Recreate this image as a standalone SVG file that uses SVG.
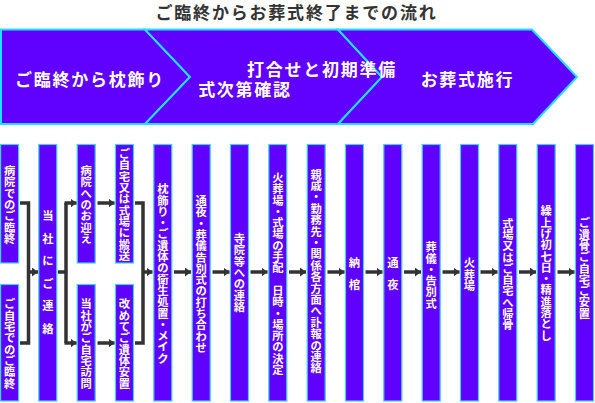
<svg xmlns="http://www.w3.org/2000/svg" width="595" height="403" viewBox="0 0 595 403">
<style>
.bar{fill:#6000ff;stroke:#3cd4ff;stroke-width:1.2}
.chev{fill:#6000ff;stroke:#22e0ff;stroke-width:2}
.vt{font-family:"Noto Sans CJK JP","Noto Sans",sans-serif;font-weight:bold;font-size:11.3px;fill:#ffffff;text-anchor:middle;dominant-baseline:central}
.bt{font-family:"Noto Sans CJK JP","Noto Sans",sans-serif;font-weight:bold;font-size:17px;letter-spacing:1.75px;fill:#ffffff;text-anchor:middle}
.title{font-family:"Noto Sans CJK JP","Noto Sans",sans-serif;font-weight:bold;font-size:17px;letter-spacing:1.8px;fill:#333333;text-anchor:middle}
.ln{fill:none;stroke:#333333;stroke-width:3.5}
</style>
<defs>
<marker id="ah" markerUnits="userSpaceOnUse" markerWidth="7" markerHeight="10" refX="6" refY="4.5" orient="auto">
<path d="M0,0 L6,4.5 L0,9 z" fill="#333333"/>
</marker>
</defs>
<rect width="595" height="403" fill="#ffffff"/>
<text class="title" x="296.5" y="18.5">ご臨終からお葬式終了までの流れ</text>
<g id="stage1">
<polygon class="chev" points="1,29.5 145,29.5 190,77 145,124 1,124"/>
</g>
<g id="stage2">
<polygon class="chev" points="145,29.5 338,29.5 382,77 338,124 145,124 190,77"/>
</g>
<g id="stage3">
<polygon class="chev" points="338,29.5 532,29.5 577,77 533,124 338,124 382,77"/>
</g>
<g id="stage-labels">
<text class="bt" x="90" y="86">ご臨終から枕飾り</text>
<text class="bt" x="322" y="75.5">打合せと初期準備</text>
<text class="bt" x="245" y="95.5">式次第確認</text>
<text class="bt" x="467.5" y="86">お葬式施行</text>
</g>
<g id="n1"><rect class="bar" x="0.6" y="144.5" width="18" height="118.5"/><text class="vt" x="9.6 9.6 9.6 9.6 9.6 9.6 9.6" y="170.1 181.4 192.7 204 215.3 226.6 237.9">病院でのご臨終</text></g>
<g id="n2"><rect class="bar" x="0.6" y="284.5" width="18" height="116.5"/><text class="vt" x="9.6 9.6 9.6 9.6 9.6 9.6 9.6 9.6" y="303.45 314.75 326.05 337.35 348.65 359.95 371.25 382.55">ご自宅でのご臨終</text></g>
<g id="n3"><rect class="bar" x="38.8" y="144.5" width="18" height="256.5"/><text class="vt" x="47.8 47.8 47.8 47.8 47.8 47.8 47.8 47.8 47.8 47.8 47.8" y="215 226.3 237.6 248.9 260.2 271.5 282.8 294.1 305.4 316.7 328">当　社　に　ご　連　絡</text></g>
<g id="n4"><rect class="bar" x="77.2" y="144.5" width="18" height="118.5"/><text class="vt" x="86.2 86.2 86.2 86.2 86.2 86.2 86.2" y="170.1 181.4 192.7 204 215.3 226.6 237.9">病院へのお迎え</text></g>
<g id="n5"><rect class="bar" x="77.2" y="284.5" width="18" height="116.5"/><text class="vt" x="86.2 86.2 86.2 86.2 86.2 86.2 86.2 86.2" y="303.45 314.75 326.05 337.35 348.65 359.95 371.25 382.55">当社がご自宅訪問</text></g>
<g id="n6"><rect class="bar" x="115.5" y="144.5" width="18" height="118.5"/><text class="vt" x="124.5 124.5 124.5 124.5 124.5 124.5 124.5 124.5 124.5 124.5" y="153.15 164.45 175.75 187.05 198.35 209.65 220.95 232.25 243.55 254.85">ご自宅又は式場に搬送</text></g>
<g id="n7"><rect class="bar" x="115.5" y="284.5" width="18" height="116.5"/><text class="vt" x="124.5 124.5 124.5 124.5 124.5 124.5 124.5 124.5" y="303.45 314.75 326.05 337.35 348.65 359.95 371.25 382.55">改めてご遺体安置</text></g>
<g id="n8"><rect class="bar" x="153.8" y="144.5" width="18" height="256.5"/><text class="vt" x="162.8 162.8 162.8 162.8 162.8 162.8 162.8 162.8 162.8 162.8 162.8 162.8 162.8 162.8 162.8 162.8" y="188.25 199.55 210.85 222.15 233.45 244.75 256.05 267.35 278.65 289.95 301.25 312.55 323.85 335.15 346.45 357.75">枕飾り・ご遺体の衛生処置・メイク</text></g>
<g id="n9"><rect class="bar" x="192.2" y="144.5" width="18" height="256.5"/><text class="vt" x="201.2 201.2 201.2 201.2 201.2 201.2 201.2 201.2 201.2 201.2 201.2 201.2 201.2 201.2" y="200.05 211.35 222.65 233.95 245.25 256.55 267.85 279.15 290.45 301.75 313.05 324.35 335.65 346.95">通夜・葬儀告別式の打ち合わせ</text></g>
<g id="n10"><rect class="bar" x="230.5" y="144.5" width="18" height="256.5"/><text class="vt" x="239.5 239.5 239.5 239.5 239.5 239.5 239.5" y="238.1 249.4 260.7 272 283.3 294.6 305.9">寺院等への連絡</text></g>
<g id="n11"><rect class="bar" x="268.8" y="144.5" width="18" height="256.5"/><text class="vt" x="277.8 277.8 277.8 277.8 277.8 277.8 277.8 277.8 277.8 277.8 277.8 277.8 277.8 277.8 277.8 277.8 277.8 277.8" y="176.95 188.25 199.55 210.85 222.15 233.45 244.75 256.05 267.35 278.65 289.95 301.25 312.55 323.85 335.15 346.45 357.75 369.05">火葬場・式場の手配　日時・場所の決定</text></g>
<g id="n12"><rect class="bar" x="307.2" y="144.5" width="18" height="256.5"/><text class="vt" x="316.2 316.2 316.2 316.2 316.2 316.2 316.2 316.2 316.2 316.2 316.2 316.2 316.2 316.2 316.2 316.2 316.2 316.2" y="173.5 184.9 196.3 207.7 219.1 230.5 241.9 253.3 264.7 276.1 287.5 298.9 310.3 321.7 333.1 344.5 355.9 367.3">親戚・勤務先・関係各方面へ訃報の連絡</text></g>
<g id="n13"><rect class="bar" x="345.5" y="144.5" width="18" height="256.5"/><text class="vt" x="354.5 354.5 354.5" y="261.7 273 284.3">納　棺</text></g>
<g id="n14"><rect class="bar" x="383.8" y="144.5" width="18" height="256.5"/><text class="vt" x="392.8 392.8 392.8" y="261.7 273 284.3">通　夜</text></g>
<g id="n15"><rect class="bar" x="422.2" y="144.5" width="18" height="256.5"/><text class="vt" x="431.2 431.2 431.2 431.2 431.2 431.2" y="246.25 257.55 268.85 280.15 291.45 302.75">葬儀・告別式</text></g>
<g id="n16"><rect class="bar" x="460.5" y="144.5" width="18" height="256.5"/><text class="vt" x="469.5 469.5 469.5" y="262.2 273.5 284.8">火葬場</text></g>
<g id="n17"><rect class="bar" x="498.8" y="144.5" width="18" height="256.5"/><text class="vt" x="507.8 507.8 507.8 507.8 507.8 507.8 507.8 507.8 507.8 507.8" y="222.65 233.95 245.25 256.55 267.85 279.15 290.45 301.75 313.05 324.35">式場又はご自宅へ帰骨</text></g>
<g id="n18"><rect class="bar" x="537.2" y="144.5" width="18" height="256.5"/><text class="vt" x="546.2 546.2 546.2 546.2 546.2 546.2 546.2 546.2 546.2 546.2 546.2 546.2" y="210.35 221.65 232.95 244.25 255.55 266.85 278.15 289.45 300.75 312.05 323.35 334.65">繰上げ初七日・精進落とし</text></g>
<g id="n19"><rect class="bar" x="575.5" y="144.5" width="18" height="256.5"/><text class="vt" x="584.5 584.5 584.5 584.5 584.5 584.5 584.5 584.5 584.5" y="222.3 233.6 244.9 256.2 267.5 278.8 290.1 301.4 312.7">ご遺骨ご自宅ご安置</text></g>
<g id="connectors">
<path class="ln" d="M20,203 H28.5 V343 H20"/>
<path class="ln" d="M28.5,272 H38" marker-end="url(#ah)"/>
<path class="ln" d="M58,272 H66"/>
<path class="ln" d="M66,203 V343"/>
<path class="ln" d="M64.5,203 H76.5" marker-end="url(#ah)"/>
<path class="ln" d="M64.5,343 H76.5" marker-end="url(#ah)"/>
<path class="ln" d="M97.5,203 H114.5" marker-end="url(#ah)"/>
<path class="ln" d="M97.5,343 H114.5" marker-end="url(#ah)"/>
<path class="ln" d="M135,203 H143 V343 H135"/>
<path class="ln" d="M143,272 H152.5" marker-end="url(#ah)"/>
<path class="ln" d="M174,272 H191" marker-end="url(#ah)"/>
<path class="ln" d="M212.5,272 H229.5" marker-end="url(#ah)"/>
<path class="ln" d="M250.5,272 H267.5" marker-end="url(#ah)"/>
<path class="ln" d="M289,272 H306" marker-end="url(#ah)"/>
<path class="ln" d="M327.5,272 H344.5" marker-end="url(#ah)"/>
<path class="ln" d="M365.5,272 H382.5" marker-end="url(#ah)"/>
<path class="ln" d="M404,272 H421" marker-end="url(#ah)"/>
<path class="ln" d="M442.5,272 H459.5" marker-end="url(#ah)"/>
<path class="ln" d="M480.5,272 H497.5" marker-end="url(#ah)"/>
<path class="ln" d="M519,272 H536" marker-end="url(#ah)"/>
<path class="ln" d="M557.5,272 H574.5" marker-end="url(#ah)"/>
</g>
</svg>
